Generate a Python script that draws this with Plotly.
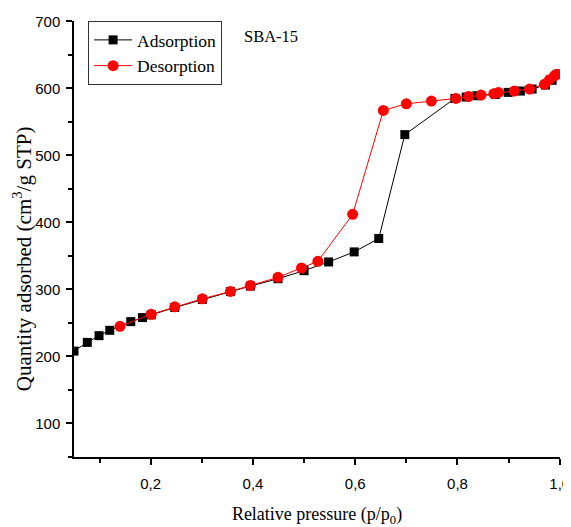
import plotly.graph_objects as go

ads_x = [0.050, 0.076, 0.099, 0.120, 0.161, 0.184, 0.201, 0.247, 0.301, 0.356, 0.395,
         0.449, 0.500, 0.548, 0.598, 0.646, 0.697, 0.795, 0.817, 0.838, 0.874, 0.899,
         0.923, 0.946, 0.972, 0.985, 0.995]
ads_y = [208, 221, 231, 239, 252, 258, 262, 273, 285, 297, 305,
         316, 328, 341, 356, 376, 531, 585, 587, 589, 591, 594,
         596, 599, 605, 612, 621]

des_x = [0.995, 0.990, 0.980, 0.970, 0.941, 0.911, 0.880, 0.871, 0.846, 0.822, 0.797,
         0.749, 0.700, 0.655, 0.595, 0.527, 0.495, 0.449, 0.395, 0.356, 0.301, 0.247,
         0.201, 0.140]
des_y = [621, 619, 613, 606, 599, 596, 594, 592, 590, 588, 585,
         581, 577, 567, 412, 342, 332, 318, 306, 297, 286, 274,
         263, 245]

serif = "Liberation Serif"
sans = "Liberation Sans"

fig = go.Figure()
fig.add_trace(go.Scatter(
    x=ads_x, y=ads_y, mode="lines+markers", name="Adsorption",
    line=dict(color="black", width=1),
    marker=dict(symbol="square", size=9, color="black"),
))
fig.add_trace(go.Scatter(
    x=des_x, y=des_y, mode="lines+markers", name="Desorption",
    line=dict(color="#ff0000", width=1),
    marker=dict(symbol="circle", size=11, color="#ff0000"),
))

axis_common = dict(
    showgrid=False, zeroline=False, showline=True, linecolor="black", linewidth=1.5,
    ticks="outside", ticklen=6, tickwidth=1.5, tickcolor="black",
    tickfont=dict(family=sans, size=15, color="black"),
    mirror=False, automargin=False, ticklabeloverflow="allow",
)

fig.update_xaxes(
    range=[0.05, 1.0005], tick0=0, dtick=0.2, tickformat=".1f",
    ticklabelstandoff=6,
    minor=dict(dtick=0.1, tick0=0, ticks="outside", ticklen=4, tickwidth=1.5, tickcolor="black"),
    title=dict(text="Relative pressure (p/p<sub>0</sub>)", font=dict(family=serif, size=18, color="black"), standoff=30),
    **axis_common,
)
fig.update_yaxes(
    range=[50, 700.5], tick0=0, dtick=100,
    ticklabelstandoff=3,
    minor=dict(dtick=50, tick0=0, ticks="outside", ticklen=4, tickwidth=1.5, tickcolor="black"),
    **axis_common,
)

# y-axis title (placed a little below the axis centre, as in the original)
fig.add_annotation(
    x=-0.107, y=0.456, xref="paper", yref="paper",
    text="Quantity adsorbed (cm<sup>3</sup>/g STP)", showarrow=False, textangle=-90,
    xanchor="center", yanchor="middle", font=dict(family=serif, size=21, color="black"),
)

fig.add_annotation(
    x=0.345, y=0.965, xref="paper", yref="paper", text="SBA-15", showarrow=False,
    xanchor="left", yanchor="middle", font=dict(family=serif, size=16.5, color="black"),
)

# the page body adds an 8px offset, so the figure is sized to fill the rest of the window
fig.update_layout(
    width=563, height=519,
    margin=dict(l=66, r=11, t=13, b=70),
    plot_bgcolor="white", paper_bgcolor="white",
    separators=",.",
    showlegend=True,
    legend=dict(
        x=0.029, y=1.0, xanchor="left", yanchor="top",
        bordercolor="#333333", borderwidth=1, bgcolor="white",
        font=dict(family=serif, size=17.5, color="black"),
        itemwidth=38,
    ),
)

fig.write_html("out.html")
